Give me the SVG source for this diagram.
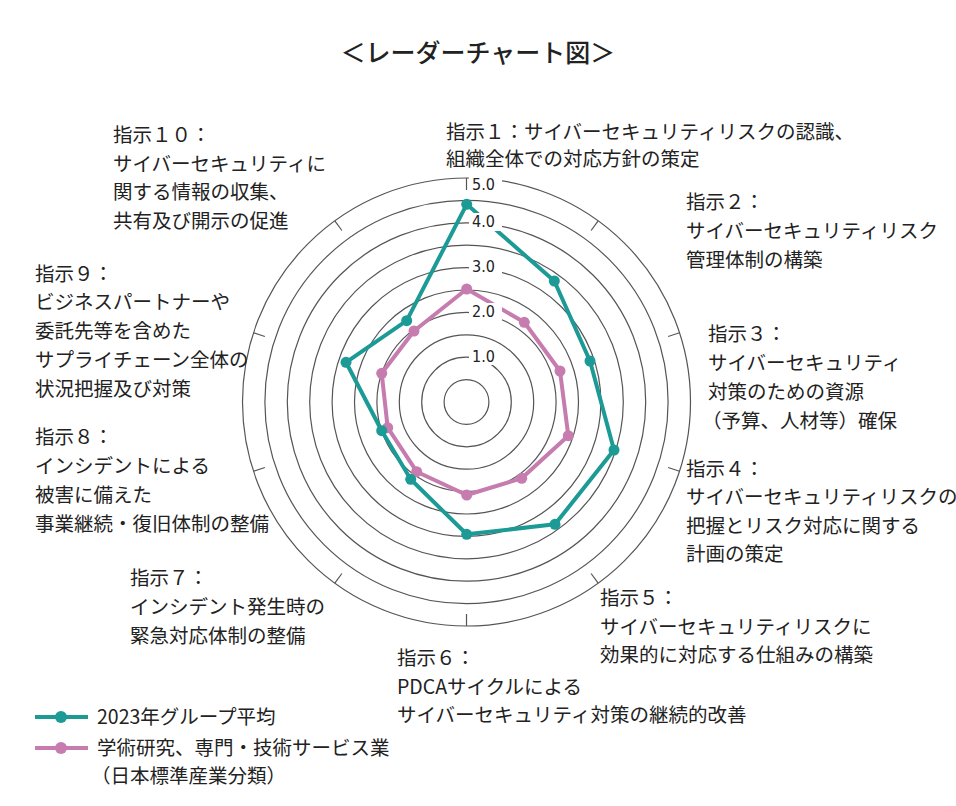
<svg xmlns="http://www.w3.org/2000/svg" width="956" height="806" viewBox="0 0 956 806">
<style>
text{font-family:"Noto Sans CJK JP","Noto Sans",sans-serif;font-size:19.5px;fill:#222}
.ring{fill:none;stroke:#555;stroke-width:1.2}
.tick{stroke:#555;stroke-width:1.2}
.val{font-family:"DejaVu Sans Condensed","Noto Sans",sans-serif;font-size:16px;fill:#222;dominant-baseline:middle}
.teal{fill:none;stroke:#1c9a95;stroke-width:4;stroke-linejoin:round}
.pink{fill:none;stroke:#c67caf;stroke-width:4;stroke-linejoin:round}
.td{fill:#1c9a95}.pd{fill:#c67caf}
</style>
<rect width="956" height="806" fill="#fff"/>
<text x="478" y="62" text-anchor="middle" style="font-size:25px;font-weight:500">＜レーダーチャート図＞</text>
<g id="grid">
<circle class="ring" cx="466.5" cy="402" r="22.4"/><circle class="ring" cx="466.5" cy="402" r="44.8"/>
<circle class="ring" cx="466.5" cy="402" r="67.2"/><circle class="ring" cx="466.5" cy="402" r="89.6"/>
<circle class="ring" cx="466.5" cy="402" r="112"/><circle class="ring" cx="466.5" cy="402" r="134.4"/>
<circle class="ring" cx="466.5" cy="402" r="156.8"/><circle class="ring" cx="466.5" cy="402" r="179.2"/>
<circle class="ring" cx="466.5" cy="402" r="201.6"/><circle class="ring" cx="466.5" cy="402" r="224"/>
<g transform="translate(466.5 402)">
<line class="tick" x1="0" y1="-224" x2="0" y2="-212" transform="rotate(0)"/>
<line class="tick" x1="0" y1="-224" x2="0" y2="-212" transform="rotate(36)"/>
<line class="tick" x1="0" y1="-224" x2="0" y2="-212" transform="rotate(72)"/>
<line class="tick" x1="0" y1="-224" x2="0" y2="-212" transform="rotate(108)"/>
<line class="tick" x1="0" y1="-224" x2="0" y2="-212" transform="rotate(144)"/>
<line class="tick" x1="0" y1="-224" x2="0" y2="-212" transform="rotate(180)"/>
<line class="tick" x1="0" y1="-224" x2="0" y2="-212" transform="rotate(216)"/>
<line class="tick" x1="0" y1="-224" x2="0" y2="-212" transform="rotate(252)"/>
<line class="tick" x1="0" y1="-224" x2="0" y2="-212" transform="rotate(288)"/>
<line class="tick" x1="0" y1="-224" x2="0" y2="-212" transform="rotate(324)"/>
</g>
</g>
<g id="connectors">
<polygon class="pink" points="466.7,289 524.3,322.3 560,371 568.3,435.7 521.7,478.3 466.7,495 416.7,471.7 387.7,427.7 381.7,373.3 414,331"/>
<g class="pd"><circle cx="466.7" cy="289" r="5.5"/><circle cx="524.3" cy="322.3" r="5.5"/><circle cx="560" cy="371" r="5.5"/><circle cx="568.3" cy="435.7" r="5.5"/><circle cx="521.7" cy="478.3" r="5.5"/><circle cx="466.7" cy="495" r="5.5"/><circle cx="416.7" cy="471.7" r="5.5"/><circle cx="387.7" cy="427.7" r="5.5"/><circle cx="381.7" cy="373.3" r="5.5"/><circle cx="414" cy="331" r="5.5"/></g>
<polygon class="teal" points="466.7,204.3 554.3,281 590,361 614,450 555,524.3 466.7,534.3 410.7,479.3 381.7,430.7 346,362.3 406.7,320.7"/>
<g class="td"><circle cx="466.7" cy="204.3" r="5.5"/><circle cx="554.3" cy="281" r="5.5"/><circle cx="590" cy="361" r="5.5"/><circle cx="614" cy="450" r="5.5"/><circle cx="555" cy="524.3" r="5.5"/><circle cx="466.7" cy="534.3" r="5.5"/><circle cx="410.7" cy="479.3" r="5.5"/><circle cx="381.7" cy="430.7" r="5.5"/><circle cx="346" cy="362.3" r="5.5"/><circle cx="406.7" cy="320.7" r="5.5"/></g>
</g>
<g id="scale">
<rect x="469" y="347" width="33" height="18" fill="#fff"/><text class="val" x="472" y="357">1.0</text>
<rect x="469" y="303" width="33" height="18" fill="#fff"/><text class="val" x="472" y="312">2.0</text>
<rect x="469" y="258" width="33" height="18" fill="#fff"/><text class="val" x="472" y="267">3.0</text>
<rect x="469" y="213" width="33" height="18" fill="#fff"/><text class="val" x="472" y="222">4.0</text>
<rect x="469" y="175" width="33" height="18" fill="#fff"/><text class="val" x="472" y="185">5.0</text>
</g>
<g id="label1"><text x="446" y="139">指示１：サイバーセキュリティリスクの認識、</text><text x="446" y="166">組織全体での対応方針の策定</text></g>
<g id="label2"><text x="686" y="209">指示２：</text><text x="686" y="238">サイバーセキュリティリスク</text><text x="686" y="267">管理体制の構築</text></g>
<g id="label3"><text x="708" y="341">指示３：</text><text x="708" y="370">サイバーセキュリティ</text><text x="708" y="399">対策のための資源</text><text x="702" y="428">（予算、人材等）確保</text></g>
<g id="label4"><text x="686" y="476">指示４：</text><text x="686" y="504">サイバーセキュリティリスクの</text><text x="686" y="533">把握とリスク対応に関する</text><text x="686" y="561">計画の策定</text></g>
<g id="label5"><text x="600" y="605">指示５：</text><text x="600" y="634">サイバーセキュリティリスクに</text><text x="600" y="662">効果的に対応する仕組みの構築</text></g>
<g id="label6"><text x="397" y="665">指示６：</text><text x="397" y="694">PDCAサイクルによる</text><text x="397" y="722">サイバーセキュリティ対策の継続的改善</text></g>
<g id="label7"><text x="130" y="585">指示７：</text><text x="130" y="614">インシデント発生時の</text><text x="130" y="643">緊急対応体制の整備</text></g>
<g id="label8"><text x="35" y="444">指示８：</text><text x="35" y="473">インシデントによる</text><text x="35" y="502">被害に備えた</text><text x="35" y="531">事業継続・復旧体制の整備</text></g>
<g id="label9"><text x="35" y="281">指示９：</text><text x="35" y="309">ビジネスパートナーや</text><text x="35" y="338">委託先等を含めた</text><text x="35" y="367">サプライチェーン全体の</text><text x="35" y="396">状況把握及び対策</text></g>
<g id="label10"><text x="113" y="142">指示１０：</text><text x="113" y="171">サイバーセキュリティに</text><text x="113" y="199">関する情報の収集、</text><text x="113" y="228">共有及び開示の促進</text></g>
<g id="legend">
<line x1="35" y1="717" x2="88" y2="717" stroke="#1c9a95" stroke-width="4"/><circle cx="61" cy="717" r="6" class="td"/>
<text x="97" y="724">2023年グループ平均</text>
<line x1="35" y1="748" x2="88" y2="748" stroke="#c67caf" stroke-width="4"/><circle cx="61" cy="748" r="6" class="pd"/>
<text x="97" y="755">学術研究、専門・技術サービス業</text>
<text x="91" y="783">（日本標準産業分類）</text>
</g>
</svg>
